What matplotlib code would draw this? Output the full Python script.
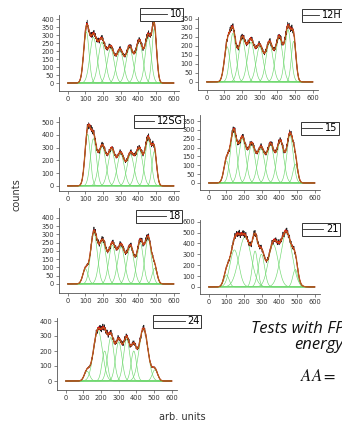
import matplotlib
matplotlib.use("Agg")
import matplotlib.pyplot as plt
import numpy as np
from matplotlib.lines import Line2D

# --- data: gaussian components per run (centre, height, sigma) ---
labels = ["10", "12H", "12SG", "15", "18", "21", "24"]

centres = [
    [105, 145, 193, 243, 296, 350, 405, 455, 490],
    [115, 148, 200, 250, 300, 355, 410, 460, 492],
    [112, 145, 195, 248, 300, 355, 405, 455, 490],
    [100, 140, 190, 243, 296, 350, 405, 460, 490],
    [100, 148, 198, 252, 302, 355, 410, 455, 492],
    [100, 145, 205, 262, 298, 365, 440, 490],
    [120, 182, 220, 255, 300, 345, 385, 440, 505],
]
heights = [
    [320, 285, 255, 215, 200, 220, 260, 285, 340],
    [195, 270, 240, 220, 195, 215, 245, 290, 225],
    [405, 370, 310, 280, 250, 245, 285, 365, 270],
    [125, 290, 250, 215, 195, 215, 235, 270, 105],
    [90, 310, 255, 235, 225, 225, 250, 275, 95],
    [110, 340, 460, 330, 300, 390, 500, 160],
    [65, 340, 200, 290, 260, 280, 200, 350, 75],
]
sigmas = [
    [15, 20, 20, 20, 20, 20, 20, 17, 13],
    [16, 17, 20, 20, 20, 20, 20, 17, 13],
    [15, 17, 20, 20, 20, 20, 20, 17, 13],
    [15, 18, 20, 20, 20, 20, 20, 18, 13],
    [15, 19, 20, 20, 20, 20, 18, 18, 14],
    [15, 25, 35, 15, 18, 28, 32, 14],
    [15, 25, 15, 18, 18, 18, 15, 25, 15],
]
# hand-typed wiggle of the measured spectra around the fit (fraction of the fit)
jitter = [0.02, -0.05, 0.08, -0.03, 0.11, -0.07, 0.04, 0.09, -0.10, 0.01,
          0.06, -0.04, 0.12, -0.08, 0.03, -0.02, 0.10, -0.06, 0.05, 0.07,
          -0.09, 0.02, 0.08, -0.05, 0.13, -0.03, 0.04, -0.11, 0.06, 0.01, -0.04]

y_ticks = [np.arange(0, 401, 50), np.arange(0, 351, 50), np.arange(0, 501, 100),
           np.arange(0, 351, 50), np.arange(0, 401, 50), np.arange(0, 601, 100),
           np.arange(0, 401, 100)]
y_lims = [(-50, 425), (-45, 360), (-40, 540), (-40, 385), (-55, 460), (-65, 615), (-60, 420)]
x_ticks = [0, 100, 200, 300, 400, 500, 600]

# axes boxes in pixels (left, top, right, bottom) of a 342x421 figure
W, H = 342, 421
boxes = [(59, 15, 179, 91), (198, 17, 318, 90), (59, 117, 179, 191), (200, 115, 320, 190),
         (59, 208, 179, 293), (200, 220, 320, 294), (57, 318, 177, 390)]
legend_at = [(140, 8), (302, 9), (134, 115), (301, 122), (136, 210), (302, 223), (153, 315)]
handle_len = [2.6, 1.6, 1.9, 2.0, 2.9, 2.0, 3.1]

x = np.arange(0, 601, 2)
wig = np.resize(np.array(jitter), x.size)
wig2 = np.roll(wig, 7)

fig = plt.figure(figsize=(W / 100, H / 100), dpi=100)

for i, lab in enumerate(labels):
    l, t, r, b = boxes[i]
    ax = fig.add_axes([l / W, 1 - b / H, (r - l) / W, (b - t) / H])
    comps = [h * np.exp(-(x - c) ** 2 / (2 * s ** 2))
             for c, h, s in zip(centres[i], heights[i], sigmas[i])]
    fit = np.sum(comps, axis=0)
    for comp in comps:
        ax.plot(x, comp, color="#6fd86f", lw=0.45)
    ax.plot(x, fit * (1 + wig * 0.6), color="#222222", lw=0.5)
    ax.plot(x, fit * (1 + wig2 * 0.2), color="#e01010", lw=0.9)
    ax.plot(x, fit, color="#9a8a20", lw=0.5)

    ax.set_xlim(-50, 630)
    ax.set_ylim(*y_lims[i])
    ax.set_xticks(x_ticks)
    ax.set_yticks(y_ticks[i])
    for s in ("top", "right"):
        ax.spines[s].set_visible(False)
    for s in ("left", "bottom"):
        ax.spines[s].set_color("#555555")
        ax.spines[s].set_linewidth(0.6)
    ax.tick_params(labelsize=4.8, length=2, width=0.5, pad=1.5,
                   colors="#555555", labelcolor="#333333")
    ax.patch.set_alpha(0)

    lx, ly = legend_at[i]
    ax.legend(handles=[Line2D([], [], color="#222222", lw=0.6)], labels=[lab],
              loc="upper left", bbox_to_anchor=(lx / W, 1 - ly / H),
              bbox_transform=fig.transFigure, fontsize=7, frameon=True,
              fancybox=False, edgecolor="#333333", framealpha=1,
              borderpad=0.15, borderaxespad=0, handlelength=handle_len[i],
              handletextpad=0.3, labelspacing=0).get_frame().set_linewidth(0.7)

fig.text(17 / W, 1 - 195 / H, "counts", rotation=90, ha="center", va="center",
         fontsize=7, color="#333333")
fig.text(182 / W, 1 - 417 / H, "arb. units", ha="center", va="center",
         fontsize=7, color="#333333")
fig.text(251 / W, 1 - 333 / H, "Tests with FPGA", fontsize=12, style="italic",
         family="Open Sans", color="#111111")
fig.text(294 / W, 1 - 349 / H, "energy", fontsize=12, style="italic",
         family="Open Sans", color="#111111")
fig.text(300 / W, 1 - 381 / H, r"$AA = $", fontsize=12, math_fontfamily="stix",
         color="#111111")

fig.savefig("out.png", dpi=100)
